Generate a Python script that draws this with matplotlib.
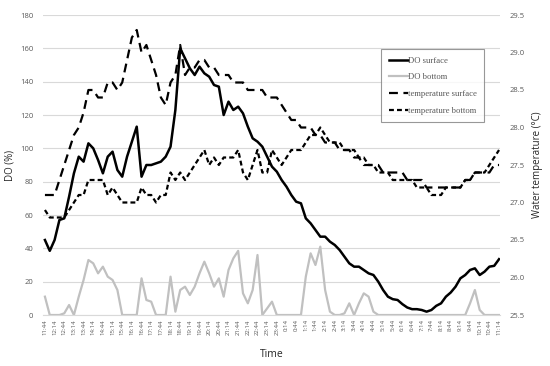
import numpy as np
import matplotlib
matplotlib.use("Agg")
import matplotlib.pyplot as plt

# ---- data ----
tick_labels = ["11:44", "12:14", "12:44", "13:14", "13:44", "14:14", "14:44", "15:14",
               "15:44", "16:14", "16:44", "17:14", "17:44", "18:14", "18:44", "19:14",
               "19:44", "20:14", "20:44", "21:14", "21:44", "22:14", "22:44", "23:14",
               "23:44", "0:14", "0:44", "1:14", "1:44", "2:14", "2:44", "3:14",
               "3:44", "4:14", "4:44", "5:14", "5:44", "6:14", "6:44", "7:14",
               "7:44", "8:14", "8:44", "9:14", "9:44", "10:14", "10:44", "11:14"]

# samples every 15 min (half a label interval)
do_surface = [45, 38.5, 45, 57, 58, 71, 85, 95, 92, 103, 100, 93, 85, 95, 98, 87,
              83, 95, 104, 113, 83, 90, 90, 91, 92, 95, 101, 123, 160, 154, 148, 144,
              149, 145, 143, 138, 137, 120, 128, 123, 125, 121, 113, 106, 104, 101, 95, 89,
              86, 81, 77, 72, 68, 67, 58, 55, 51, 47, 47, 44, 42, 39, 35, 31,
              29, 29, 27, 25, 24, 20, 15, 11, 9.5, 9, 6.5, 4.5, 3.5, 3.5, 3, 2,
              3, 5.5, 7, 11, 13.5, 17, 22, 24, 27, 28, 24, 26, 29, 29.5, 33.5]

do_bottom = [11, 0, 0, 0, 1, 6, 0, 11, 21, 33, 31, 25, 29, 23, 21, 15,
             0, 0, 0, 0, 22, 9, 8, 0, 0, 0, 23, 2, 15, 17, 12, 17,
             25, 32, 25, 17, 22, 11, 27, 34, 38.5, 13, 7, 15, 36, 0, 4, 8,
             0, 0, 0, 0, 0, 0, 23, 37, 30, 41, 15, 2, 0, 0, 1, 7,
             0, 7, 13, 11, 2, 0, 0, 0, 0, 0, 0, 0, 0, 0, 0, 0,
             0, 0, 0, 0, 0, 0, 0, 0, 7, 15, 3, 0, 0, 0, 0]

temp_surface = [27.1, 27.1, 27.1, 27.3, 27.5, 27.7, 27.9, 28.0, 28.2, 28.5, 28.5, 28.4,
                28.4, 28.6, 28.6, 28.5, 28.6, 28.9, 29.2, 29.3, 29.0, 29.1, 28.9, 28.7,
                28.4, 28.3, 28.6, 28.7, 29.1, 28.7, 28.8, 28.8, 28.9, 28.9, 28.8, 28.8,
                28.7, 28.7, 28.7, 28.6, 28.6, 28.6, 28.5, 28.5, 28.5, 28.5, 28.4, 28.4,
                28.4, 28.3, 28.2, 28.1, 28.1, 28.0, 28.0, 28.0, 27.9, 27.9, 27.8, 27.8,
                27.8, 27.7, 27.7, 27.7, 27.6, 27.6, 27.5, 27.5, 27.5, 27.5, 27.4, 27.4,
                27.4, 27.4, 27.4, 27.3, 27.3, 27.3, 27.3, 27.2, 27.2, 27.2, 27.2, 27.2,
                27.2, 27.2, 27.2, 27.3, 27.3, 27.4, 27.4, 27.4, 27.4, 27.5, 27.5]

temp_bottom = [26.9, 26.8, 26.8, 26.8, 26.8, 26.9, 27.0, 27.1, 27.1, 27.3, 27.3, 27.3,
               27.3, 27.1, 27.2, 27.1, 27.0, 27.0, 27.0, 27.0, 27.2, 27.1, 27.1, 27.0,
               27.1, 27.1, 27.4, 27.3, 27.4, 27.3, 27.4, 27.5, 27.6, 27.7, 27.5, 27.6,
               27.5, 27.6, 27.6, 27.6, 27.7, 27.4, 27.3, 27.5, 27.7, 27.4, 27.4, 27.7,
               27.6, 27.5, 27.6, 27.7, 27.7, 27.7, 27.8, 27.9, 27.9, 28.0, 27.9, 27.8,
               27.8, 27.8, 27.7, 27.7, 27.7, 27.6, 27.6, 27.5, 27.5, 27.4, 27.4, 27.4,
               27.3, 27.3, 27.3, 27.3, 27.3, 27.2, 27.2, 27.2, 27.1, 27.1, 27.1, 27.2,
               27.2, 27.2, 27.2, 27.3, 27.3, 27.4, 27.4, 27.4, 27.5, 27.6, 27.7]

# ---- plot ----
x = np.arange(len(do_surface)) * 0.5

fig = plt.figure(figsize=(5.5, 3.66), dpi=100)
ax = fig.add_axes([43/550, 1-315/366, (500-43)/550, 300/366])
ax2 = ax.twinx()

grey_txt = "#595959"
ax.set_ylim(0, 180)
ax.set_yticks(np.arange(0, 181, 20))
ax.set_xlim(-0.2, 47.1)
ax.grid(axis="y", color="#d9d9d9", lw=0.8)
ax.set_axisbelow(True)
for s in ax.spines.values():
    s.set_visible(False)
for s in ax2.spines.values():
    s.set_visible(False)
ax.spines["bottom"].set_visible(True)
ax.spines["bottom"].set_color("#d9d9d9")

l1, = ax.plot(x, do_surface, color="black", lw=1.8, solid_joinstyle="round")
l2, = ax.plot(x, do_bottom, color="#c0c0c0", lw=1.6, solid_joinstyle="round")
l3, = ax2.plot(x, temp_surface, color="black", lw=1.6, dashes=(4, 2.5))
l4, = ax2.plot(x, temp_bottom, color="black", lw=1.6, dashes=(2.2, 1.4))

ax2.set_ylim(25.5, 29.5)
ax2.set_yticks(np.arange(25.5, 29.51, 0.5))
ax2.set_yticklabels([f"{v:.1f}" for v in np.arange(25.5, 29.51, 0.5)])

ax.set_xticks(np.arange(len(tick_labels)))
ax.set_xticklabels(tick_labels, rotation=90, fontsize=4.3, color=grey_txt, family="Open Sans")
ax.tick_params(axis="x", length=0, pad=3)
ax.tick_params(axis="y", length=0, labelsize=5.5, labelcolor=grey_txt, pad=7)
ax2.tick_params(axis="y", length=0, labelsize=5.5, labelcolor=grey_txt, pad=7)
for lab in ax.get_yticklabels() + ax2.get_yticklabels():
    lab.set_family("Open Sans")

ax.set_ylabel("DO (%)", fontsize=7, color="#262626", family="Open Sans", labelpad=3)
ax2.set_ylabel("Water temperature (°C)", fontsize=7, color="#262626", family="Open Sans", labelpad=5)
ax.set_xlabel("Time", fontsize=7.5, color="#262626", family="Open Sans", labelpad=10)

leg = fig.legend([l1, l2, l3, l4],
                 ["DO surface", "DO bottom", "temperature surface", "temperature bottom"],
                 loc="upper left", bbox_to_anchor=(381/550, 1-49/366),
                 prop={"family": "Liberation Serif", "size": 6.2},
                 frameon=True, fancybox=False, edgecolor="#7f7f7f",
                 handlelength=2.2, handletextpad=0.0, labelspacing=1.0,
                 borderpad=0.9, borderaxespad=0)
leg.get_frame().set_linewidth(0.8)
for t in leg.get_texts():
    t.set_color(grey_txt)

fig.savefig("out.png", dpi=100)
